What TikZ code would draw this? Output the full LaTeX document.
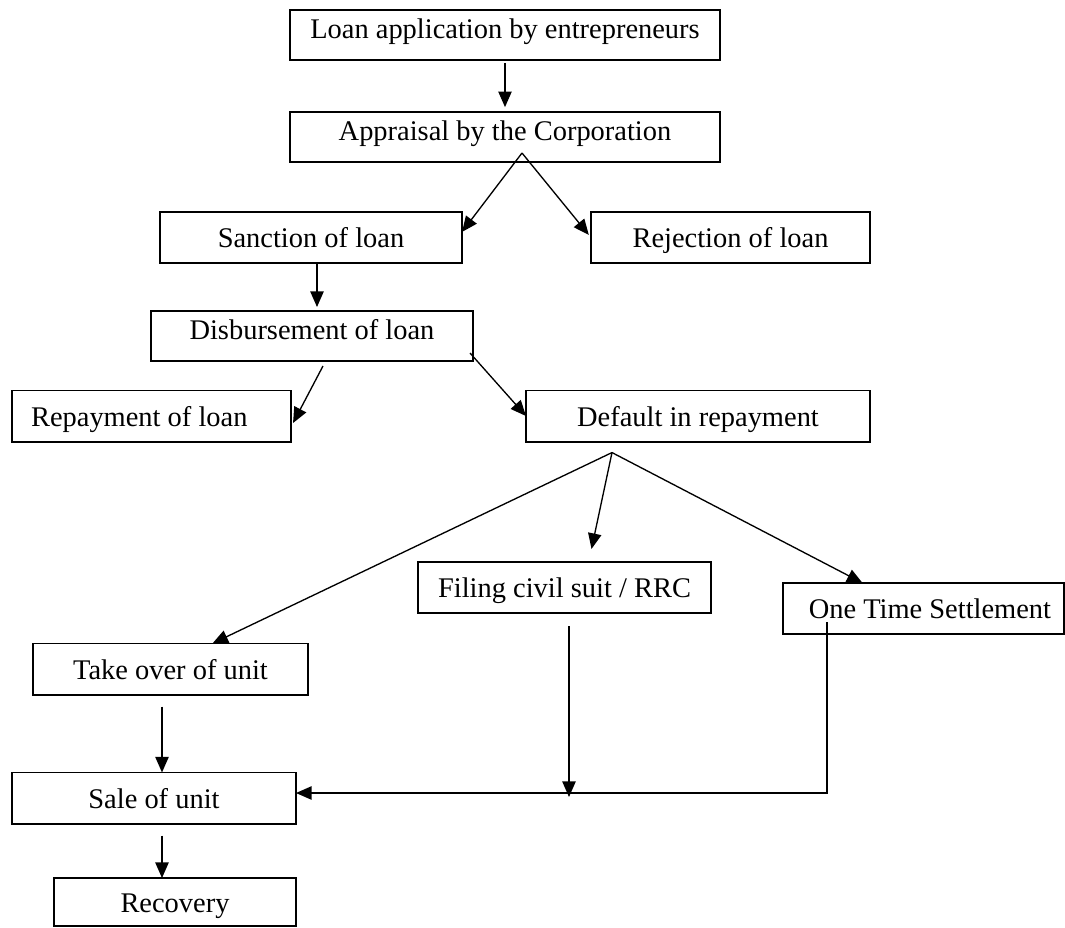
\documentclass[tikz,border=0pt]{standalone}
\usepackage{fontspec}
\setmainfont{Liberation Serif}
\usetikzlibrary{arrows.meta,calc}

\begin{document}
\begin{tikzpicture}[x=0.45pt,y=-0.45pt,>={Triangle[length=7pt,width=6pt]}]
        \tikzstyle{box}=[draw,line width=0.85pt,inner sep=0pt,outer sep=0pt,minimum height=23pt,text height=9pt,text depth=0pt,font=\fontsize{12.8}{15}\selectfont]
        \tikzstyle{thinbox}=[box,line width=0.5pt,minimum height=22.5pt,text depth=6pt]
        \tikzstyle{arr}=[->,line width=0.6pt]
        \useasboundingbox (0,0) rectangle (1065,928);

        % Application and appraisal
        \node (appl)[thinbox,minimum width=193.5pt] at (505,35) {Loan application by entrepreneurs};
        \node (appr)[thinbox,minimum width=193.5pt] at (505,137) {Appraisal by the Corporation};

        % Sanction or rejection
        \node (sanc)[box,minimum width=135.9pt] at (311,237.5) {Sanction of loan};
        \node (rej)[box,minimum width=125.6pt] at (730.5,237.5) {Rejection of loan};
        \node (disb)[thinbox,minimum width=144.9pt] at (312,336) {Disbursement of loan};

        % Repayment or default
        \node (repay)[box,minimum width=125.6pt] at (151.5,416) {Repayment of loan\kern11pt};
        \node (dflt)[box,minimum width=154.8pt] at (698,416) {Default in repayment};

        % Steps after default
        \node (file)[box,minimum width=131.9pt] at (564.5,587.5) {Filing civil suit / RRC};
        \node (ots)[box,minimum width=126.5pt] at (923.5,608.5) {\kern5.8pt One Time Settlement};
        \node (take)[box,minimum width=123.8pt] at (170.5,669) {Take over of unit};
        \node (sale)[box,minimum width=127.8pt] at (154,798) {Sale of unit};
        \node (rec)[box,minimum width=108.9pt,minimum height=21.6pt] at (175,902) {Recovery};

        % Branching points
        \coordinate (apprfork) at ($(appr.south)+(17,-9)$);
        \coordinate (dfltfork) at ($(dflt.south)+(-86,11)$);
        \coordinate (join) at ($(sale.east)+(0,-5)$);
        \coordinate (filetail) at ($(file.south)+(4.5,13)$);
        \coordinate (otstail) at ($(ots.south)+(-96.5,-12)$);

        % Arrows
        \draw[arr,shorten <=1.3pt,shorten >=2.2pt] (appl) -- (appr);
        \draw[arr] (apprfork) -- ([yshift=2.5pt]sanc.east);
        \draw[arr,shorten >=1.5pt] (apprfork) -- (rej.west);
        \draw[arr,shorten >=1.8pt] ([xshift=2.7pt]sanc.south) -- ([xshift=2.7pt]sanc.south |- disb.north);
        \draw[arr] ($(disb.south)+(11,5)$) -- ($(repay.east)+(2,7)$);
        \draw[arr] ($(disb.south east)+(-3,-8)$) -- (dflt.west);
        \draw[arr] (dfltfork) -- ($(take.north)+(42,0)$);
        \draw[arr] (dfltfork) -- ($(file.north)+(27,-13)$);
        \draw[arr] (dfltfork) -- ($(ots.north)+(-61,0)$);
        \draw[arr] ($(take.south)+(-8.5,12)$) -- ($(sale.north)+(8,0)$);
        \draw[arr,shorten >=-1.8pt] (filetail) -- (filetail |- join);
        \draw[arr] (otstail) |- (join);
        \draw[arr] ($(sale.south)+(8,12)$) -- ($(rec.north)+(-13,0)$);
    \end{tikzpicture}
\end{document}
